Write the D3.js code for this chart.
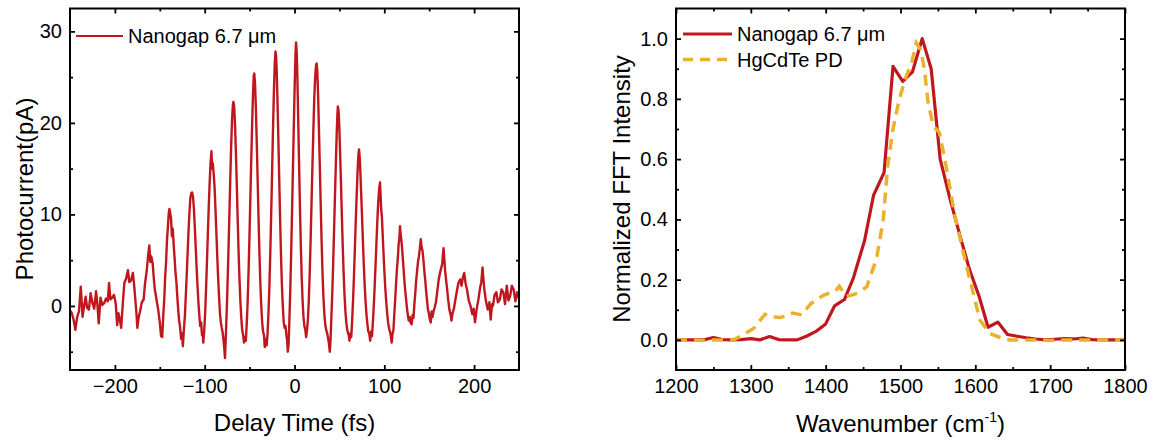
<!DOCTYPE html>
<html>
<head>
<meta charset="utf-8">
<script src="https://cdn.jsdelivr.net/npm/d3@7"></script>
<style>
  body { margin: 0; background: #fff; }
  svg { display: block; font-family: "Liberation Sans", Arial, sans-serif; }
</style>
</head>
<body>
<svg width="1157" height="442"></svg>
<script>
const red = "#c0171f";
const gold = "#ebb02e";

// ---- left panel: interferogram ----
const delayTicks = [-200, -100, 0, 100, 200];
const delayMinor = [-150, -50, 50, 150];
const currentTicks = [0, 10, 20, 30];
const currentMinor = [-5, 5, 15, 25];

// [delay (fs), photocurrent (pA)]
const interferogram = [
  [-250, -0.5], [-248, -0.8], [-246, -1.5], [-244, -2.6], [-242, -1.2], [-240, -0.6], [-238, 2.1], [-236, -1.2],
  [-234, 0.2], [-232.5, 1.0], [-231, -0.2], [-229, -0.4], [-227, 1.4], [-225, 0.3], [-223, -0.3], [-221, 1.6],
  [-219.5, 0.2], [-218, -1.9], [-216, 0.9], [-214, 0.1], [-212, 0.3], [-210, 0.8], [-208, 0.5], [-206.5, 2.5],
  [-205, 0.7], [-203, 0.9], [-201, 1.2], [-199, 0.2], [-197.5, -2.1], [-196, -0.8], [-194.5, -1.5], [-193, -2.4],
  [-191, 0.5], [-189.5, 2.5], [-187.5, 3.0], [-185.5, 3.9], [-184, 2.6], [-182, 2.8], [-180, 3.6], [-178.5, 2.2],
  [-177.5, 1.0], [-176, -0.8], [-175, -2.4], [-173.5, -1.2], [-172, -0.6], [-170, 0.4], [-168, 0.7], [-166.5, 2.4],
  [-164.5, 3.9], [-163, 5.5], [-161.7, 6.6], [-160.5, 4.8], [-159.5, 5.4], [-158, 4.7], [-156.5, 2.8], [-155.5, 1.8],
  [-153.5, 0.6], [-151.8, -0.4], [-150, -1.8],
  [-148.6, -3.3], [-147.3, -3.4], [-146, -0.8], [-145, 0.8], [-144, 3.2], [-143, 4.8], [-142, 7.2], [-141, 8.6],
  [-140, 10.2], [-139.3, 10.6], [-138.5, 10.2], [-137.5, 9.6], [-136.5, 7.6], [-135.5, 8.4], [-134.5, 6.6], [-133.5, 5.2],
  [-132.5, 3.6], [-131.5, 2.6], [-130.5, 1.0], [-129.5, -0.4], [-128.5, -1.6], [-127.5, -2.2], [-126.3, -3.6], [-125.3, -3.0],
  [-124.3, -4.4], [-123.2, -2.6], [-122, -1.0], [-121, 1.2], [-120, 3.4], [-119, 5.8], [-118, 8.2], [-117, 10.2],
  [-116, 11.8], [-115, 12.3], [-114, 12.4], [-113, 11.9], [-112, 10.6], [-111, 8.6], [-110, 6.4], [-109, 4.2],
  [-108, 2.2], [-107, 0.4], [-106, -1.0], [-105, -2.2], [-104, -1.8], [-103, -3.2], [-102.3, -3.0], [-101.6, -4.0],
  [-100.6, -2.8], [-99.5, -0.8], [-98.5, 1.8], [-97.5, 4.8], [-96.5, 7.8], [-95.5, 10.8], [-94.5, 13.4], [-93.5, 15.6],
  [-92.5, 16.9], [-91.7, 15.0], [-91, 15.6], [-90, 14.4], [-89, 13.0], [-88, 10.6], [-87, 8.0], [-86, 5.4],
  [-85, 3.0], [-84, 1.0], [-83, -0.8], [-82, -1.8], [-81, -2.4], [-80, -2.9], [-79, -3.8], [-78.2, -4.6],
  [-77.4, -5.7], [-76.5, -3.4], [-75.5, -0.6], [-74.5, 2.6], [-73.5, 6.2], [-72.5, 10.0], [-71.5, 14.0], [-70.5, 17.6],
  [-69.5, 20.4], [-68.6, 22.0], [-68, 22.3], [-67.2, 21.8], [-66.3, 20.0], [-65.3, 17.0], [-64.3, 13.4], [-63.3, 9.6],
  [-62.3, 6.0], [-61.3, 3.0], [-60.3, 0.6], [-59.3, -1.2], [-58.3, -2.6], [-57.2, -3.2], [-56.2, -4.0], [-55.2, -3.4],
  [-54.2, -3.8], [-53.2, -2.0], [-52.2, 0.4], [-51.2, 3.6], [-50.2, 7.4], [-49.2, 11.6], [-48.2, 15.8], [-47.2, 19.8],
  [-46.2, 23.2], [-45.4, 25.2], [-44.8, 25.4], [-44, 24.4], [-43, 21.6], [-42, 17.8], [-41, 13.6], [-40, 9.4],
  [-39, 5.6], [-38, 2.4], [-37, 0], [-36, -1.8], [-35, -2.8], [-34, -3.2], [-33.1, -4.5], [-32, -3.6],
  [-31, -4.3], [-30, -3.0], [-29, -0.8], [-28, 2.0], [-27, 5.6], [-26, 9.8], [-25, 14.4], [-24, 19.0],
  [-23, 23.2], [-22, 26.4], [-21.2, 27.8], [-20.5, 27.3], [-19.8, 25.6], [-19, 22.6], [-18, 18.4], [-17, 13.8],
  [-16, 9.4], [-15, 5.4], [-14, 2.2], [-13, 0], [-12, -1.8], [-11, -2.4], [-10, -2.2], [-9, -3.2],
  [-8.2, -3.8], [-7.5, -5.0], [-6.6, -4.2], [-5.7, -1.6], [-4.7, 1.8], [-3.7, 5.8], [-2.7, 10.4], [-1.7, 15.2],
  [-0.7, 20.0], [0.3, 24.4], [1.1, 27.6], [1.7, 28.8], [2.4, 27.8], [3.2, 25.0], [4.1, 20.6], [5, 16.0],
  [6, 11.2], [7, 6.8], [8, 3.2], [9, 0.6], [10, -1.2], [11, -2.2], [12, -2.6], [13, -3.4],
  [14, -2.6], [15, -1.4], [16, 0.8], [17, 3.8], [18, 7.4], [19, 11.4], [20, 15.4], [21, 19.2],
  [22, 22.6], [23, 25.0], [24, 26.3], [24.7, 26.5], [25.4, 25.6], [26.3, 23.0], [27.2, 19.4], [28.2, 15.2],
  [29.2, 11.0], [30.2, 7.0], [31.2, 3.6], [32.2, 1.0], [33.2, -0.8], [34.2, -2.0], [35.2, -2.6], [36.2, -2.9],
  [37.2, -3.4], [38.2, -4.0], [39.3, -5.0], [40.2, -3.6], [41, -1.4], [42, 1.2], [43, 4.4], [44, 8.0],
  [45, 11.8], [46, 15.4], [47, 18.8], [47.8, 21.0], [48.3, 21.8], [49, 21.4], [49.8, 19.8], [50.7, 17.0],
  [51.7, 13.6], [52.7, 10.0], [53.7, 6.6], [54.7, 3.6], [55.7, 1.2], [56.7, -0.6], [57.7, -1.8], [58.7, -2.6],
  [59.7, -3.0], [60.5, -3.2], [61.2, -3.8], [62.2, -3.0], [63.2, -3.4], [64.2, -1.6], [65.2, 0.6], [66.2, 3.2],
  [67.2, 6.2], [68.2, 9.2], [69.2, 12.0], [70.2, 14.6], [71.1, 16.4], [71.8, 17.1], [72.5, 16.4], [73.3, 14.8],
  [74.2, 12.4], [75.2, 9.8], [76.2, 7.0], [77.2, 4.4], [78.2, 2.2], [79.2, 0.4], [80.2, -1.0], [81.2, -2.0],
  [82.2, -2.8], [83.2, -3.0], [84.3, -3.8], [85.3, -2.8], [86.3, -3.3], [87.3, -1.8], [88.3, 0], [89.3, 2.2],
  [90.3, 4.6], [91.3, 7.0], [92.3, 9.4], [93.3, 11.4], [94.3, 12.8], [95.2, 13.5], [95.9, 12.0], [96.6, 10.4],
  [97.3, 9.8], [98.2, 7.8], [99.2, 5.6], [100.2, 3.6], [101.2, 1.8], [102.2, 0.4], [103.2, -0.8], [104.2, -1.8],
  [105.2, -2.4], [106.2, -2.8], [107.2, -3.2], [108.2, -4.0], [109.2, -3.0], [110.2, -2.6], [111.2, -0.8], [112.2, 0.8],
  [113.2, 2.6], [114.2, 4.2], [115.2, 5.4], [116, 6.8], [116.8, 7.4], [117.5, 8.7], [118.3, 7.8], [119.2, 7.0],
  [120.2, 5.8], [121.2, 4.4], [122.2, 3.0], [123.2, 1.8], [124.2, 0.8], [125.2, -0.2], [126.2, -1.0], [127.2, -1.6],
  [128.2, -1.2], [129.2, -1.8], [130.5, -2.0], [131.5, -1.0], [132.5, -1.3], [133.5, 0.2], [134.5, 1.4], [135.5, 2.8],
  [136.5, 3.8], [137.5, 4.8], [138.5, 5.4], [139.5, 6.2], [140.6, 7.3], [141.6, 6.4], [142.6, 6.0], [143.6, 5.0],
  [144.6, 3.8], [145.6, 2.8], [146.6, 1.6], [147.6, 0.6], [148.6, -0.4], [149.6, -0.8], [150.6, -1.4], [151.7, -1.8],
  [152.7, -0.6], [153.7, -1.2], [154.8, -0.6], [156, -0.2], [157.5, 0.4], [159, 1.6], [160.5, 2.8], [162, 3.6],
  [163.5, 4.2], [164.5, 4.6], [165.3, 5.6], [166, 6.3], [166.8, 5.2], [167.6, 4.0], [168.6, 3.0], [169.8, 2.0],
  [171, 0.8], [172.5, -0.4], [174, -1.0], [174.8, -1.6], [176, -0.8], [177.5, -0.3], [179, 0.6], [180.6, 1.5],
  [182.5, 2.5], [184.4, 2.9], [186, 2.2], [187.5, 3.1], [189, 3.6], [190.6, 2.4], [192.1, 1.8], [194, 0.6],
  [196, 0], [198, -0.9], [199.5, -0.3], [201, -1.8], [202.8, -0.4], [204.8, 0.7], [206.5, 1.9], [208, 2.6],
  [209.4, 4.2], [210.4, 2.9], [211.4, 1.8], [213.2, 0.5], [215.2, -0.4], [217, 0.4], [218.5, -1.5], [220, 0.2],
  [221, 0], [222.8, 1.2], [224.8, 1.5], [226.5, 0.4], [228.7, 0.7], [230.5, 1.8], [232.5, 1.5], [234.5, 0.2],
  [236.4, 2.2], [238.3, 0.6], [240.2, 1.1], [242, 2.2], [244.1, 1.8], [246, 0.5], [248, 1.5], [250, 0.8]
];

// ---- right panel: FFT spectra ----
const waveTicks = [1200, 1300, 1400, 1500, 1600, 1700, 1800];
const waveMinor = [1250, 1350, 1450, 1550, 1650, 1750];
const fftTicks = [0, 0.2, 0.4, 0.6, 0.8, 1.0];
const fftMinor = [0.1, 0.3, 0.5, 0.7, 0.9];

const nanogapWave = [1200, 1213, 1225, 1237, 1250, 1262, 1275, 1287, 1300, 1312, 1325, 1337, 1350, 1362, 1375, 1387,
  1400, 1412, 1425, 1437, 1452, 1464, 1478, 1490, 1503, 1516, 1529, 1541, 1553, 1566, 1579, 1592, 1605, 1617, 1630,
  1643, 1656, 1668, 1681, 1694, 1706, 1718, 1731, 1744, 1756, 1769, 1781, 1800];
const nanogapFFT = [0, 0, 0, 0, 0.008, 0.001, 0, 0.001, 0.004, 0, 0.011, 0.001, 0, 0, 0.013, 0.028,
  0.053, 0.113, 0.134, 0.205, 0.33, 0.48, 0.555, 0.908, 0.858, 0.89, 1.0, 0.9, 0.6, 0.47, 0.35, 0.235, 0.145, 0.042, 0.059,
  0.018, 0.012, 0.007, 0.003, 0, 0.002, 0.004, 0.003, 0.006, 0.001, 0, 0, 0];

const hgcdteWave = [1200, 1218, 1235, 1250, 1265, 1277, 1290, 1304, 1319, 1328, 1340, 1356, 1368, 1380, 1397, 1413,
  1418, 1428, 1437, 1446, 1455, 1468, 1477, 1483, 1490, 1498, 1506, 1515, 1521, 1527, 1532, 1537, 1544, 1552, 1561,
  1572, 1583, 1595, 1606, 1619, 1633, 1646, 1665, 1682, 1699, 1715, 1730, 1750, 1770, 1800];
const hgcdteFFT = [0, 0, -0.002, 0, 0, 0, 0.017, 0.039, 0.085, 0.076, 0.074, 0.089, 0.083, 0.12, 0.148, 0.162,
  0.178, 0.145, 0.15, 0.16, 0.177, 0.27, 0.4, 0.58, 0.7, 0.795, 0.864, 0.92, 0.986, 0.963, 0.897, 0.786, 0.709, 0.688, 0.576,
  0.42, 0.3, 0.178, 0.066, 0.022, 0.008, 0, 0, 0, -0.002, 0, 0, 0, 0, 0];

const svg = d3.select("svg");
svg.append("rect").attr("width", 1157).attr("height", 442).attr("fill", "#fff");

// draws inward ticks on all four sides plus the frame
function drawAxes(x, y, xt, xm, yt, ym, yFmt) {
  const [x0, x1] = x.range();
  const [y0, y1] = y.range();
  const g = svg.append("g");

  const specs = [
    [d3.axisBottom, x, xt, 5, `translate(0,${y0})`, d3.format("d"), 9],
    [d3.axisBottom, x, xm, 3, `translate(0,${y0})`, null, 9],
    [d3.axisTop, x, xt, 5, `translate(0,${y1})`, null, 9],
    [d3.axisTop, x, xm, 3, `translate(0,${y1})`, null, 9],
    [d3.axisLeft, y, yt, 5, `translate(${x0},0)`, yFmt, 8],
    [d3.axisLeft, y, ym, 3, `translate(${x0},0)`, null, 8],
    [d3.axisRight, y, yt, 5, `translate(${x1},0)`, null, 8],
    [d3.axisRight, y, ym, 3, `translate(${x1},0)`, null, 8]
  ];
  specs.forEach(([fn, sc, vals, len, tr, fmt, pad]) => {
    const ax = fn(sc).tickValues(vals).tickSize(-len).tickPadding(pad)
      .tickFormat(fmt ? fmt : () => "");
    const a = g.append("g").attr("transform", tr).call(ax);
    a.select(".domain").remove();
    a.selectAll(".tick line").attr("stroke", "#000").attr("stroke-width", 1.8);
    a.selectAll(".tick text").attr("fill", "#000").style("font-size", "20px")
      .style("font-family", "'Liberation Sans', Arial, sans-serif");
  });

  g.append("rect")
    .attr("x", x0).attr("y", y1)
    .attr("width", x1 - x0).attr("height", y0 - y1)
    .attr("fill", "none").attr("stroke", "#000").attr("stroke-width", 2);
}

function clip(id, x, y) {
  const [x0, x1] = x.range();
  const [y0, y1] = y.range();
  svg.append("clipPath").attr("id", id).append("rect")
    .attr("x", x0).attr("y", y1).attr("width", x1 - x0).attr("height", y0 - y1);
}

// ---------- left ----------
const xL = d3.scaleLinear().domain([-250, 250]).range([70, 519]);
const yL = d3.scaleLinear().domain([-7, 32.5]).range([370, 8.5]);
clip("clipL", xL, yL);

svg.append("path")
  .datum(interferogram)
  .attr("clip-path", "url(#clipL)")
  .attr("fill", "none")
  .attr("stroke", red)
  .attr("stroke-width", 2.4)
  .attr("stroke-linejoin", "round")
  .attr("d", d3.line().x(d => xL(d[0])).y(d => yL(d[1])));

drawAxes(xL, yL, delayTicks, delayMinor, currentTicks, currentMinor, d3.format("d"));

svg.append("text")
  .attr("x", (xL.range()[0] + xL.range()[1]) / 2).attr("y", 431)
  .attr("text-anchor", "middle").style("font-size", "24px")
  .text("Delay Time (fs)");
svg.append("text")
  .attr("transform", "translate(33,189) rotate(-90)")
  .attr("text-anchor", "middle").style("font-size", "24px")
  .text("Photocurrent(pA)");

// legend
svg.append("line").attr("x1", 76).attr("x2", 123).attr("y1", 36).attr("y2", 36)
  .attr("stroke", red).attr("stroke-width", 2.2);
svg.append("text").attr("x", 128).attr("y", 36).attr("dy", "0.35em")
  .style("font-size", "20px").text("Nanogap 6.7 μm");

// ---------- right ----------
const xR = d3.scaleLinear().domain([1200, 1800]).range([676, 1125]);
const yR = d3.scaleLinear().domain([-0.1, 1.1]).range([370, 8.5]);
clip("clipR", xR, yR);

const lineR = d3.line().x(d => xR(d[0])).y(d => yR(d[1]));

svg.append("path")
  .datum(nanogapWave.map((w, i) => [w, nanogapFFT[i]]))
  .attr("clip-path", "url(#clipR)")
  .attr("fill", "none")
  .attr("stroke", red)
  .attr("stroke-width", 3.2)
  .attr("stroke-linejoin", "round")
  .attr("d", lineR);

svg.append("path")
  .datum(hgcdteWave.map((w, i) => [w, hgcdteFFT[i]]))
  .attr("clip-path", "url(#clipR)")
  .attr("fill", "none")
  .attr("stroke", gold)
  .attr("stroke-width", 3.5)
  .attr("stroke-dasharray", "11,7")
  .attr("d", lineR);

drawAxes(xR, yR, waveTicks, waveMinor, fftTicks, fftMinor, d3.format(".1f"));

const xt = svg.append("text")
  .attr("x", (xR.range()[0] + xR.range()[1]) / 2).attr("y", 432)
  .attr("text-anchor", "middle").style("font-size", "24px");
xt.append("tspan").text("Wavenumber (cm");
xt.append("tspan").attr("dy", -10).style("font-size", "14px").text("-1");
xt.append("tspan").attr("dy", 10).text(")");

svg.append("text")
  .attr("transform", "translate(630,189) rotate(-90)")
  .attr("text-anchor", "middle").style("font-size", "24px")
  .text("Normalized FFT Intensity");

// legend
const legendR = [
  { label: "Nanogap 6.7 μm", color: red, dash: null, width: 3.2 },
  { label: "HgCdTe PD", color: gold, dash: "10,7", width: 3.5 }
];
legendR.forEach((d, i) => {
  const ly = 34 + i * 25.5;
  svg.append("line").attr("x1", 683).attr("x2", 732).attr("y1", ly).attr("y2", ly)
    .attr("stroke", d.color).attr("stroke-width", d.width)
    .attr("stroke-dasharray", d.dash);
  svg.append("text").attr("x", 737).attr("y", ly).attr("dy", "0.35em")
    .style("font-size", "20px").text(d.label);
});
</script>
</body>
</html>
